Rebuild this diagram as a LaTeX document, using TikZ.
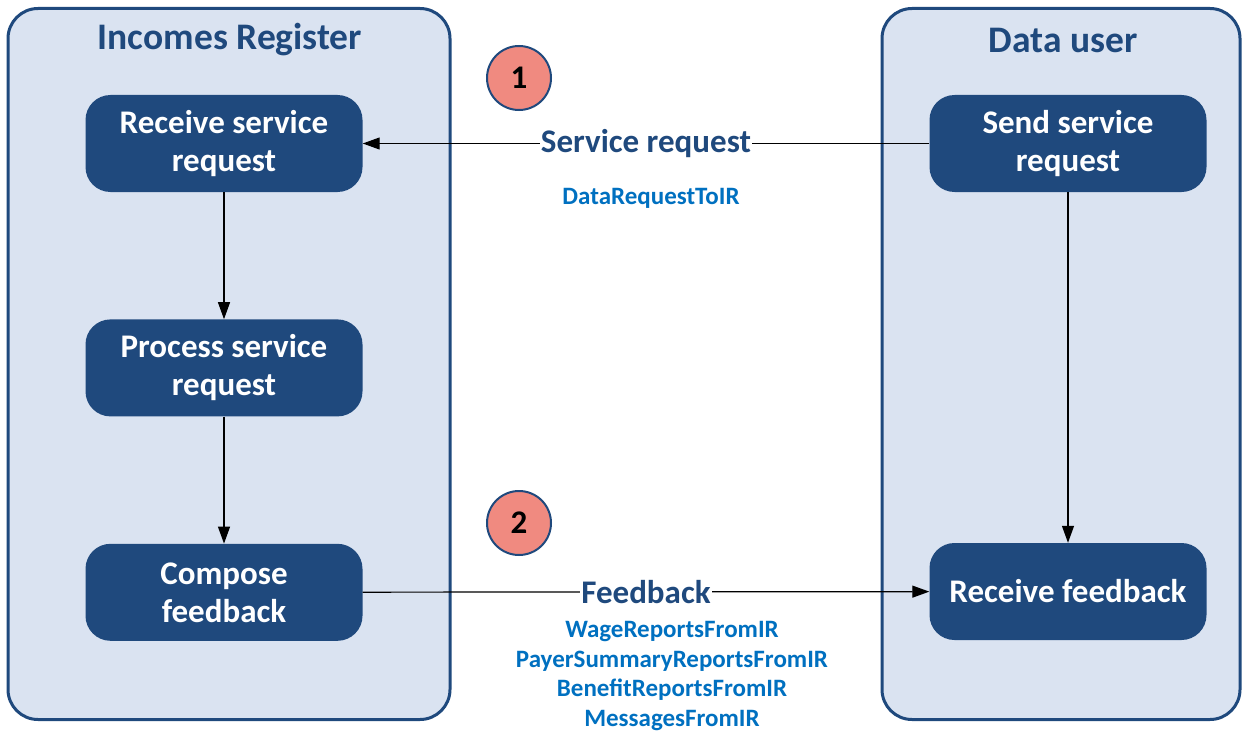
\documentclass[tikz,border=0pt]{standalone}
\usepackage{fontspec}
\setmainfont{Carlito}
\usetikzlibrary{arrows.meta,positioning}
\definecolor{lanefill}{RGB}{218,227,241}
\definecolor{darkblue}{RGB}{31,73,125}
\definecolor{msgblue}{RGB}{0,112,192}
\definecolor{badgefill}{RGB}{240,138,128}

\begin{document}
\begin{tikzpicture}[x=1pt,y=-1pt,node distance=127pt,>={Triangle[length=17pt,width=12pt]},
  lane/.style={draw=darkblue,line width=3pt,fill=lanefill,rounded corners=30pt,minimum height=711pt},
  lanetitle/.style={text=darkblue,font=\fontsize{37.5}{42}\selectfont\bfseries},
  proc/.style={fill=darkblue,text=white,rounded corners=25pt,minimum width=277pt,minimum height=97pt,align=center,font=\fontsize{33}{38}\selectfont\bfseries},
  msg/.style={fill=white,text=darkblue,inner sep=1pt,font=\fontsize{33}{38}\selectfont\bfseries},
  payload/.style={text=msgblue,align=center,font=\fontsize{25}{29.5}\selectfont\bfseries},
  badge/.style={circle,draw=darkblue,line width=2pt,fill=badgefill,minimum size=64pt,font=\fontsize{33}{38}\selectfont\bfseries},
  flow/.style={->,line width=1.2pt}]
    \useasboundingbox (0,0) rectangle (1247,733);
    % swimlanes
    \node [lane, minimum width=442pt] (irlane) at (229,364) {};
    \node [lane, minimum width=358pt] (userlane) at (1061,364) {};
    \node [lanetitle] (irtitle) at (230,40) {Incomes Register};
    \node [lanetitle] (usertitle) at (1063,40) {Data user};
    % Incomes Register steps
    \node [proc] (recvreq) at (224,143.5) {Receive service\\request};
    \node [proc, below=of recvreq] (procreq) {Process service\\request};
    \node [proc, below=of procreq] (compose) {Compose\\feedback};
    % Data user steps
    \node [proc] (sendreq) at (1068,143.5) {Send service\\request};
    \node [proc] (recvfb) at (1068,591.5) {Receive feedback};
    % numbered badges
    \node [badge] (one) at (519,78) {1};
    \node [badge] (two) at (519,523) {2};
    % messages
    \draw [flow] (sendreq) -- node [msg] (reqlabel) {Service request} (recvreq);
    \draw [flow] (compose) -- node [msg] (fblabel) {Feedback} (recvfb);
    \node [payload] (reqdata) at (651,198) {DataRequestToIR};
    \node [payload] (fbdata) at (672,676) {WageReportsFromIR\\PayerSummaryReportsFromIR\\BenefitReportsFromIR\\MessagesFromIR};
    % internal flow
    \draw [flow] (recvreq) -- (procreq);
    \draw [flow] (procreq) -- (compose);
    \draw [flow] (sendreq) -- (recvfb);
\end{tikzpicture}
\end{document}
